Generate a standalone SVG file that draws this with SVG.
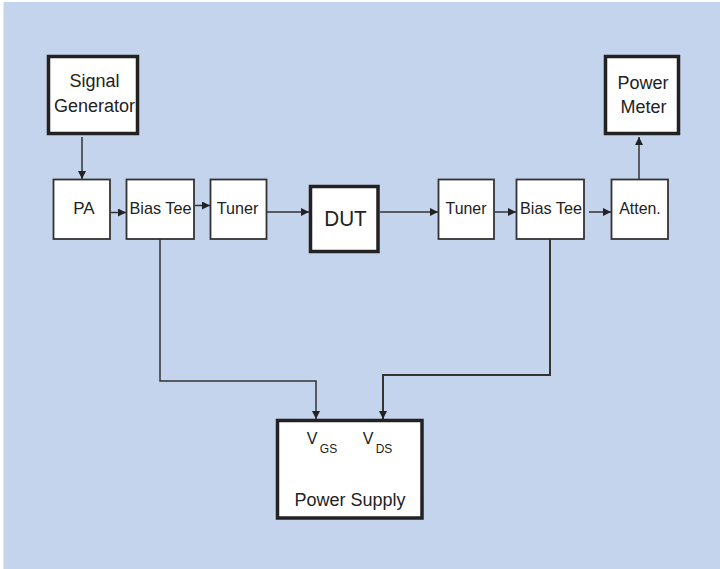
<svg xmlns="http://www.w3.org/2000/svg" width="720" height="569" viewBox="0 0 720 569">
<style>
.box{fill:#fff;stroke:#333;stroke-width:1.8}
.thick{fill:#fff;stroke:#222;stroke-width:3.5}
.t{font-family:"Liberation Sans",Arial,sans-serif;fill:#222;text-anchor:middle}
.c{fill:none;stroke:#333;stroke-width:1.5}
</style>
<defs>
<marker id="ah" markerUnits="userSpaceOnUse" markerWidth="10" markerHeight="10" refX="8" refY="4" orient="auto">
<path d="M0,0 L8,4 L0,8 Z" fill="#222"/>
</marker>
</defs>
<rect x="0" y="0" width="720" height="569" fill="#fff"/>
<rect x="3.5" y="2" width="716.5" height="567" fill="#c5d4ed"/>
<g id="connectors">
<path class="c" d="M82,137 V179" marker-end="url(#ah)"/>
<path class="c" d="M111,212.5 H126" marker-end="url(#ah)"/>
<path class="c" d="M195,205.5 H210" marker-end="url(#ah)"/>
<path class="c" d="M267,212 H309" marker-end="url(#ah)"/>
<path class="c" d="M380,212 H438" marker-end="url(#ah)"/>
<path class="c" d="M495,212 H516" marker-end="url(#ah)"/>
<path class="c" d="M589,212 H611" marker-end="url(#ah)"/>
<path class="c" d="M639,179 V137" marker-end="url(#ah)"/>
<path class="c" d="M160,239 V381 H316 V419" marker-end="url(#ah)"/>
<path class="c" style="stroke-width:2" d="M550,239 V375 H383 V419" marker-end="url(#ah)"/>
</g>
<g id="signal-generator">
<rect class="thick" x="48.5" y="56.5" width="89" height="77"/>
<text class="t" x="94.5" y="87" font-size="18">Signal</text>
<text class="t" x="94.5" y="112" font-size="18">Generator</text>
</g>
<g id="pa">
<rect class="box" x="53.5" y="179.5" width="56.5" height="59.5"/>
<text class="t" x="84" y="214" font-size="17">PA</text>
</g>
<g id="bias-tee-1">
<rect class="box" x="126.5" y="179.5" width="67.5" height="59.5"/>
<text class="t" x="160.5" y="214" font-size="17" textLength="62" lengthAdjust="spacingAndGlyphs">Bias Tee</text>
</g>
<g id="tuner-1">
<rect class="box" x="210.5" y="179.5" width="56" height="59.5"/>
<text class="t" x="237.5" y="214" font-size="17" textLength="41.5" lengthAdjust="spacingAndGlyphs">Tuner</text>
</g>
<g id="dut">
<rect class="thick" x="310.5" y="186.5" width="67.5" height="65"/>
<text class="t" x="345.5" y="225.5" font-size="21.5" textLength="42.5" lengthAdjust="spacingAndGlyphs">DUT</text>
</g>
<g id="tuner-2">
<rect class="box" x="438.5" y="179.5" width="55.5" height="59.5"/>
<text class="t" x="466" y="214" font-size="17" textLength="41" lengthAdjust="spacingAndGlyphs">Tuner</text>
</g>
<g id="bias-tee-2">
<rect class="box" x="516.5" y="179.5" width="67.5" height="59.5"/>
<text class="t" x="551" y="214" font-size="17" textLength="62" lengthAdjust="spacingAndGlyphs">Bias Tee</text>
</g>
<g id="atten">
<rect class="box" x="611.5" y="179.5" width="56.5" height="59.5"/>
<text class="t" x="640" y="214" font-size="17" textLength="41.5" lengthAdjust="spacingAndGlyphs">Atten.</text>
</g>
<g id="power-meter">
<rect class="thick" x="605.5" y="56.5" width="73" height="77"/>
<text class="t" x="643" y="88.5" font-size="18">Power</text>
<text class="t" x="643.5" y="112.5" font-size="18">Meter</text>
</g>
<g id="power-supply">
<rect class="thick" x="277.5" y="420.5" width="144.5" height="97.5"/>
<text class="t" x="312" y="443.5" font-size="16">V</text>
<text class="t" x="328.5" y="452.5" font-size="12">GS</text>
<text class="t" x="368" y="443.5" font-size="16">V</text>
<text class="t" x="384" y="452.5" font-size="12">DS</text>
<text class="t" x="350" y="506" font-size="18">Power Supply</text>
</g>
</svg>
